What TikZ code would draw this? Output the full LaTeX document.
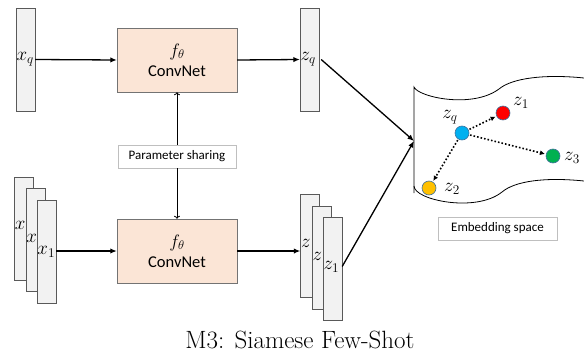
\RequirePackage{fix-cm}
\documentclass[tikz,border=0pt]{standalone}
\usepackage{fontspec}
\newfontfamily\calfont{Carlito}
\usetikzlibrary{arrows.meta}

\definecolor{netfill}{HTML}{FBE5D6}
\definecolor{vecfill}{HTML}{F2F2F2}
\definecolor{dotline}{HTML}{41719C}
\definecolor{qblue}{HTML}{00B0F0}
\definecolor{sred}{HTML}{FF0000}
\definecolor{sgreen}{HTML}{00B050}
\definecolor{sorange}{HTML}{FFC000}

\tikzset{
  vec/.style={draw=black!65, fill=vecfill, minimum width=19pt, minimum height=103pt, inner sep=0pt},
  net/.style={draw=black!55, fill=netfill, minimum width=120pt, minimum height=64pt,
    align=center, font=\calfont\fontsize{16.5}{20}\selectfont},
  tag/.style={draw=black!25, minimum height=23pt, inner sep=0pt, font=\calfont\fontsize{13}{15}\selectfont},
  sym/.style={inner sep=0.5pt, font=\fontsize{19}{21}\selectfont},
  flow/.style={line width=1.3pt, -{Latex[length=6.5pt,width=5.5pt]}},
  share/.style={line width=0.8pt, -{To[length=3pt,width=6pt]}},
  hop/.style={line width=1.6pt, dotted, -{Latex[length=5pt,width=5pt]}, shorten >=1pt, shorten <=1pt},
  embdot/.style={circle, draw=dotline, line width=0.6pt, minimum size=14pt, inner sep=0pt},
}

\begin{document}
\begin{tikzpicture}[x=1pt,y=-1pt]
  \useasboundingbox (0,0) rectangle (584,356);

  % query branch
  \node[vec] (xq) at (25.5,59.5) {};
  \node[sym, anchor=west] at (xq.west) {$x_q$};
  \node[net] (nq) at (177,60) {\fontsize{18}{20}\selectfont$f_\theta$\\ConvNet};
  \node[vec] (zq) at (309.5,59.5) {};
  \node[sym, anchor=west] at (zq.west) {$z_q$};

  % shared weights
  \node[tag, minimum width=118pt] (share) at (177,156.5) {Parameter sharing};

  % support branch
  \node[vec] (xa) at (24,228.5) {};
  \node[sym, anchor=west] at ([yshift=3pt]xa.west) {$x$};
  \node[vec] (xb) at (35.5,240) {};
  \node[sym, anchor=west] at ([yshift=2pt]xb.west) {$x$};
  \node[vec] (xc) at (46.5,251.5) {};
  \node[sym, anchor=west] at (xc.west) {$x_1$};
  \node[net] (ns) at (177,251) {\fontsize{18}{20}\selectfont$f_\theta$\\ConvNet};
  \node[vec] (za) at (310,245.5) {};
  \node[sym, anchor=west] at ([yshift=2pt]za.west) {$z$};
  \node[vec] (zb) at (321.5,257.5) {};
  \node[sym, anchor=west] at ([yshift=1pt]zb.west) {$z$};
  \node[vec] (zc) at (332.5,268.5) {};
  \node[sym, anchor=west] at ([yshift=2pt]zc.west) {$z_1$};

  \draw[flow] (xq.east) -- (nq.west);
  \draw[flow] (nq.east) -- (zq.west);
  \draw[share] (share.north) -- (nq.south);
  \draw[share] (share.south) -- (ns.north);
  \draw[flow] (xc.east |- ns.west) -- (ns.west);
  \draw[flow] (ns.east) -- (za.west |- ns.east);

  % embedding space
  \draw[line width=0.8pt] (414,193) -- (414,87)
    .. controls (418,97) and (472,109) .. (499,89)
    .. controls (512,78) and (545,74) .. (584,78);
  \draw[line width=0.8pt] (414,186)
    .. controls (414,200) and (476,213) .. (502,192)
    .. controls (515,181) and (545,177) .. (584,181);
  \coordinate (emb) at (414,141);
  \draw[flow] ([xshift=2pt]zq.east) -- (emb);
  \draw[flow] ([yshift=2pt]zc.east) -- (emb);

  \node[embdot, fill=qblue] (pq) at (462,133) {};
  \node[embdot, fill=sred] (p1) at (503,113) {};
  \node[embdot, fill=sgreen] (p3) at (553,156) {};
  \node[embdot, fill=sorange] (p2) at (429,188) {};
  \node[sym] at (450,117) {$z_q$};
  \node[sym] at (521,103) {$z_1$};
  \node[sym] at (572,158) {$z_3$};
  \node[sym] at (452,189) {$z_2$};
  \draw[hop] (pq) -- (p1);
  \draw[hop] (pq) -- (p3);
  \draw[hop] (pq) -- (p2);

  \node[tag, minimum width=119pt] (space) at (497.5,228.5) {Embedding space};

  \node[font=\fontsize{25}{29}\selectfont] (caption) at (300,340) {M3: Siamese Few-Shot};
\end{tikzpicture}
\end{document}
